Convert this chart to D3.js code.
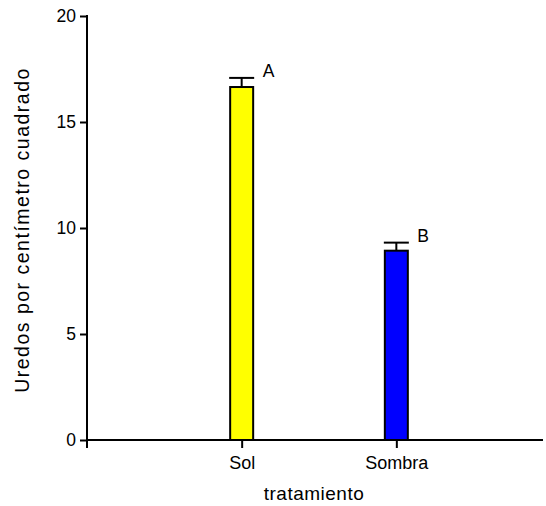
<!DOCTYPE html>
<html>
<head>
<meta charset="utf-8">
<script src="https://cdn.jsdelivr.net/npm/d3@7"></script>
<style>
  body { margin: 0; background: #fff; }
  text { font-family: Arial, "Liberation Sans", sans-serif; fill: #000; }
</style>
</head>
<body>
<div id="chart"></div>
<script>
// data
var groups = ["Sol", "Sombra"];
var means = [16.65, 8.93];
var errors = [0.43, 0.38];
var letters = ["A", "B"];
var colors = ["#ffff00", "#0000ff"];
var yTicks = [0, 5, 10, 15, 20];

var W = 546, H = 506;
var margin = { top: 16, left: 87, bottom: 66 };
var plotBottom = H - margin.bottom; // 440

var svg = d3.select("#chart").append("svg")
  .attr("width", W)
  .attr("height", H);

var y = d3.scaleLinear().domain([0, 20]).range([plotBottom, margin.top]);
var x = d3.scalePoint().domain(groups).range([margin.left, 551]).padding(1);
var barW = 23;

// y axis
var yAxis = svg.append("g")
  .attr("transform", "translate(" + margin.left + ",0)")
  .call(d3.axisLeft(y).tickValues(yTicks).tickSize(7).tickPadding(4));
yAxis.select(".domain").remove();
yAxis.selectAll("line").attr("stroke", "#000").attr("stroke-width", 2);
yAxis.selectAll("text").style("font-size", "17.5px");
yAxis.append("line")
  .attr("x1", 0).attr("x2", 0)
  .attr("y1", y(20) - 1).attr("y2", plotBottom + 8)
  .attr("stroke", "#000").attr("stroke-width", 2);

// x axis
var xAxis = svg.append("g")
  .attr("transform", "translate(0," + plotBottom + ")")
  .call(d3.axisBottom(x).tickSize(8).tickPadding(8));
xAxis.select(".domain").remove();
xAxis.selectAll("line").attr("stroke", "#000").attr("stroke-width", 2);
xAxis.selectAll("text").style("font-size", "18px");
xAxis.append("line")
  .attr("x1", margin.left).attr("x2", 543)
  .attr("y1", 0).attr("y2", 0)
  .attr("stroke", "#000").attr("stroke-width", 2);

// bars
svg.selectAll(".bar")
  .data(groups)
  .enter().append("rect")
  .attr("class", "bar")
  .attr("x", function(d) { return x(d) - barW / 2; })
  .attr("y", function(d, i) { return y(means[i]); })
  .attr("width", barW)
  .attr("height", function(d, i) { return plotBottom - y(means[i]); })
  .attr("fill", function(d, i) { return colors[i]; })
  .attr("stroke", "#000")
  .attr("stroke-width", 2);

// error bars (upper only)
svg.selectAll(".err")
  .data(groups)
  .enter().append("line")
  .attr("x1", function(d) { return x(d); })
  .attr("x2", function(d) { return x(d); })
  .attr("y1", function(d, i) { return y(means[i]); })
  .attr("y2", function(d, i) { return y(means[i] + errors[i]); })
  .attr("stroke", "#000").attr("stroke-width", 2);

svg.selectAll(".cap")
  .data(groups)
  .enter().append("line")
  .attr("x1", function(d) { return x(d) - 12.5; })
  .attr("x2", function(d) { return x(d) + 12.5; })
  .attr("y1", function(d, i) { return y(means[i] + errors[i]); })
  .attr("y2", function(d, i) { return y(means[i] + errors[i]); })
  .attr("stroke", "#000").attr("stroke-width", 2);

// significance letters
svg.selectAll(".letter")
  .data(groups)
  .enter().append("text")
  .attr("x", function(d) { return x(d) + 21; })
  .attr("y", function(d, i) { return y(means[i] + errors[i]) - 1; })
  .style("font-size", "17.5px")
  .text(function(d, i) { return letters[i]; });

// axis titles
svg.append("text")
  .attr("x", 314)
  .attr("y", 500)
  .attr("text-anchor", "middle")
  .style("font-size", "19px")
  .style("letter-spacing", "0.5px")
  .text("tratamiento");

svg.append("text")
  .attr("transform", "translate(29,230) rotate(-90)")
  .attr("text-anchor", "middle")
  .style("font-size", "19.5px")
  .style("letter-spacing", "1.5px")
  .text("Uredos por centímetro cuadrado");
</script>
</body>
</html>
